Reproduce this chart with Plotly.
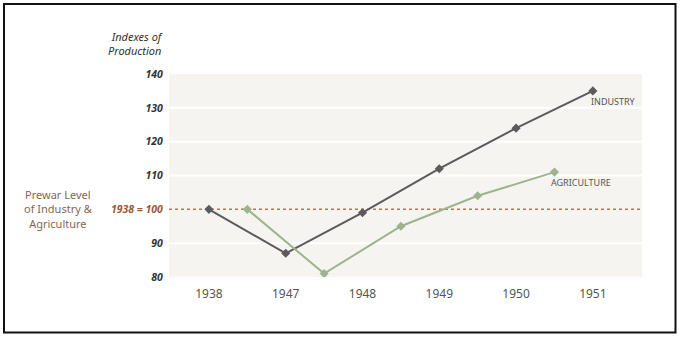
import plotly.graph_objects as go

years = ["1938", "1947", "1948", "1949", "1950", "1951"]
industry = [100, 87, 99, 112, 124, 135]
agriculture = [100, 81, 95, 104, 111]
y_ticks = [80, 90, 100, 110, 120, 130, 140]
y_tick_text = ["80", "90", "<span style='color:#9a5a35'>1938 = 100</span>", "110", "120", "130", "140"]
prewar_level = 100

ind_x = list(range(len(years)))
agr_x = [i + 0.5 for i in range(len(agriculture))]

W, H = 681, 337
L, R, T, B = 169, 39, 74, 60
pw, ph = W - L - R, H - T - B

def px(x):
    return (x - L) / pw

def py(y):
    return (H - B - y) / ph

fig = go.Figure()
fig.add_trace(go.Scatter(x=ind_x, y=industry, mode="lines+markers",
                         line=dict(color="#5b5a5c", width=2),
                         marker=dict(symbol="diamond", size=7, color="#5b5a5c"),
                         showlegend=False, hoverinfo="skip"))
fig.add_trace(go.Scatter(x=agr_x, y=agriculture, mode="lines+markers",
                         line=dict(color="#9db48e", width=2),
                         marker=dict(symbol="diamond", size=7, color="#9db48e"),
                         showlegend=False, hoverinfo="skip"))

for v in y_ticks[1:-1]:
    if v == prewar_level:
        continue
    fig.add_shape(type="line", xref="paper", yref="y", x0=0, x1=1, y0=v, y1=v,
                  line=dict(color="white", width=2), layer="below")
fig.add_shape(type="line", xref="paper", yref="y", x0=0, x1=1, y0=prewar_level, y1=prewar_level,
              line=dict(color="#b8764d", width=1.5, dash="dot"), layer="below")
fig.add_shape(type="rect", xref="paper", yref="paper",
              x0=px(4), x1=px(675.5), y0=py(4), y1=py(332.5),
              line=dict(color="#111111", width=2), layer="below")

fig.add_annotation(xref="x", yref="y", x=ind_x[-1], y=industry[-1], text="INDUSTRY",
                   showarrow=False, xanchor="left", yanchor="middle", xshift=-4, yshift=-11,
                   font=dict(size=9, color="#555555"))
fig.add_annotation(xref="x", yref="y", x=agr_x[-1], y=agriculture[-1], text="AGRICULTURE",
                   showarrow=False, xanchor="left", yanchor="middle", xshift=-5, yshift=-10,
                   font=dict(size=9, color="#555555"))
fig.add_annotation(xref="paper", yref="paper", x=px(165), y=py(44),
                   text="<i>Indexes of<br>Production</i>", showarrow=False,
                   xanchor="right", yanchor="middle", align="right",
                   font=dict(size=11, color="#333333"))
fig.add_annotation(xref="paper", yref="paper", x=px(58), y=py(209),
                   text="Prewar Level<br>of Industry &amp;<br>Agriculture", showarrow=False,
                   xanchor="center", yanchor="middle", align="center",
                   font=dict(size=11, color="#846656"))

fig.update_layout(
    width=W, height=H,
    margin=dict(l=L, r=R, t=T, b=B),
    paper_bgcolor="white",
    plot_bgcolor="#f6f4f0",
    font=dict(family="Noto Sans", color="#444444"),
    xaxis=dict(range=[-0.52, 5.64], tickmode="array", tickvals=ind_x, ticktext=years,
               showgrid=False, zeroline=False, showline=False,
               ticks="outside", ticklen=6, tickcolor="rgba(0,0,0,0)",
               tickfont=dict(size=12, color="#555555")),
    yaxis=dict(range=[80, 140], tickmode="array", tickvals=y_ticks, ticktext=y_tick_text,
               showgrid=False, zeroline=False, showline=False,
               ticks="outside", ticklen=3, tickcolor="rgba(0,0,0,0)",
               tickfont=dict(size=10.5, color="#333333", weight="bold", style="italic")),
)

fig.write_html("out.html")
